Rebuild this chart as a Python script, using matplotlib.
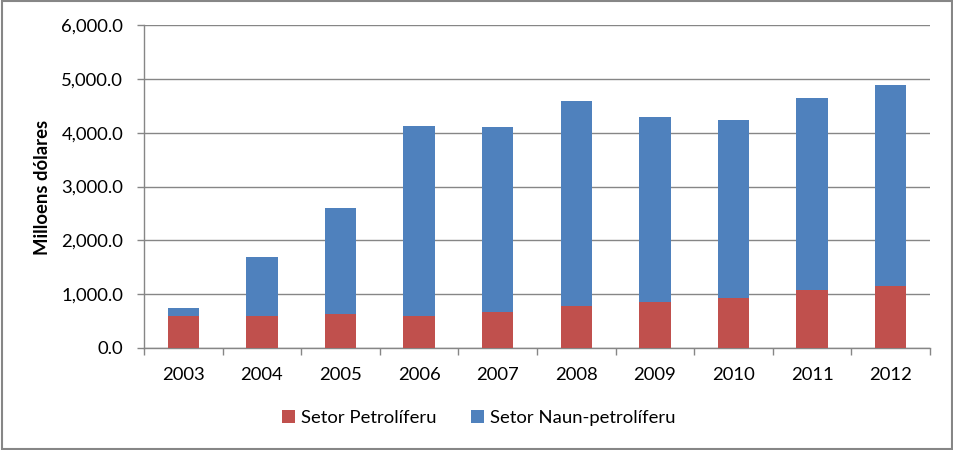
import matplotlib.pyplot as plt
from matplotlib.patches import Rectangle
from matplotlib.ticker import FuncFormatter

anos = ['2003', '2004', '2005', '2006', '2007', '2008', '2009', '2010', '2011', '2012']
petroliferu = [598, 598, 635, 598, 672, 771, 857, 931, 1080, 1154]
total = [746, 1691, 2598, 4117, 4098, 4580, 4284, 4228, 4635, 4894]
naun_petroliferu = [t - p for t, p in zip(total, petroliferu)]

plt.rcParams['font.family'] = ['Lato', 'DejaVu Sans']
fs = 13.3

fig = plt.figure(figsize=(9.54, 4.5), dpi=100)
ax = fig.add_axes([144 / 954, 102 / 450, 786 / 954, 323 / 450])

x = list(range(len(anos)))
ax.bar(x, petroliferu, width=0.4, color='#C0504D', label='Setor Petrolíferu', zorder=3)
ax.bar(x, naun_petroliferu, width=0.4, bottom=petroliferu, color='#4F81BD',
       label='Setor Naun-petrolíferu', zorder=3)

ax.set_xlim(-0.5, len(anos) - 0.5)
ax.set_ylim(0, 6000)
ax.set_yticks(range(0, 6001, 1000))
ax.yaxis.set_major_formatter(FuncFormatter(lambda v, p: f'{v:,.1f}'))
ax.grid(axis='y', color='#868686', linewidth=1, zorder=0)

ax.set_xticks(x)
ax.set_xticklabels(anos)
ax.set_xticks([i - 0.5 for i in range(len(anos) + 1)], minor=True)
ax.tick_params(axis='x', which='major', length=0, pad=14, labelsize=fs)
ax.tick_params(axis='x', which='minor', length=5, color='#868686', width=1)
ax.tick_params(axis='y', length=5, color='#868686', width=1, pad=10, labelsize=fs)

for s in ['top', 'right']:
    ax.spines[s].set_visible(False)
for s in ['left', 'bottom']:
    ax.spines[s].set_color('#868686')
    ax.spines[s].set_linewidth(1)

fig.text(43 / 954, 1 - 187 / 450, 'Milloens dólares', rotation=90, ha='center', va='center',
         fontsize=fs, fontweight='bold')

fig.legend(loc='center', bbox_to_anchor=(0.502, 1 - 418 / 450), ncol=2, frameon=False,
           fontsize=fs, handlelength=0.7, handleheight=0.7, handletextpad=0.3,
           columnspacing=1.9)

fig.patches.append(Rectangle((0.002, 0.003), 0.996, 0.994, transform=fig.transFigure,
                             fill=False, edgecolor='#868686', linewidth=1.5))

fig.savefig('out.png', dpi=100)
